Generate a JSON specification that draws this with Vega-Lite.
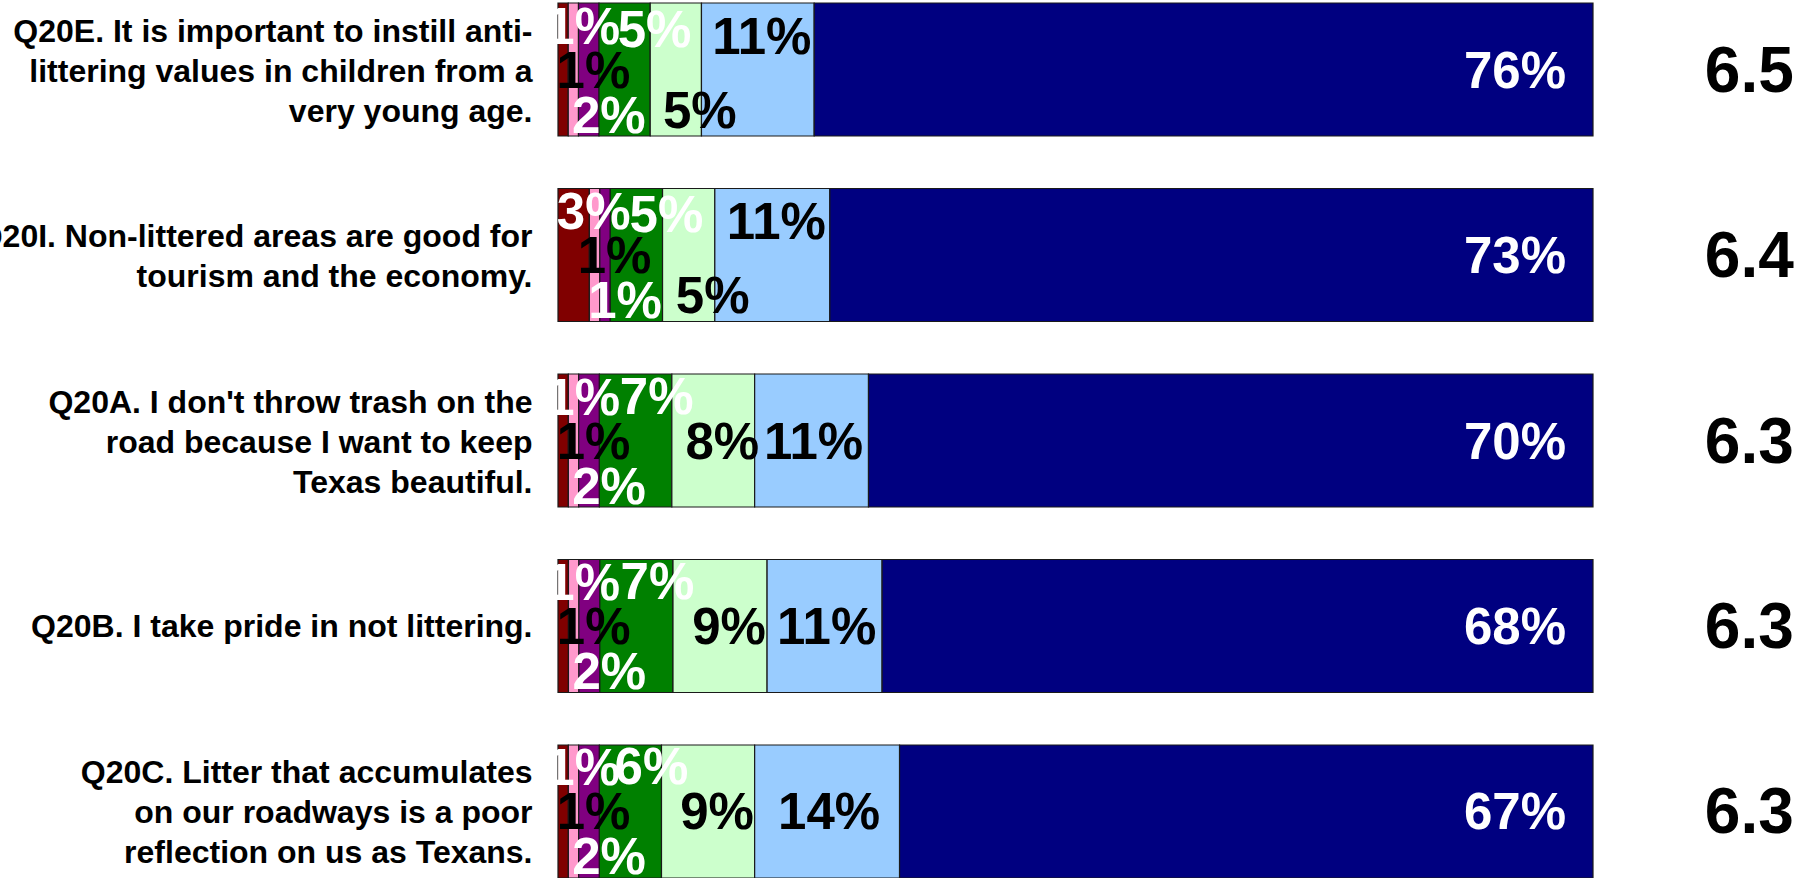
{
  "$schema": "https://vega.github.io/schema/vega-lite/v6.json",
  "width": 1035,
  "height": 875,
  "autosize": {"type": "none"},
  "padding": {"left": 558, "top": 3, "right": 219, "bottom": 0},
  "background": "white",
  "config": {"view": {"stroke": null}, "font": "Liberation Sans"},
  "datasets": {
    "bars": [
      {"q": "Q20E. It is important to instill anti-\nlittering values in children from a\nvery young age.", "k": 1, "v": 1},
      {"q": "Q20E. It is important to instill anti-\nlittering values in children from a\nvery young age.", "k": 2, "v": 1},
      {"q": "Q20E. It is important to instill anti-\nlittering values in children from a\nvery young age.", "k": 3, "v": 2},
      {"q": "Q20E. It is important to instill anti-\nlittering values in children from a\nvery young age.", "k": 4, "v": 5},
      {"q": "Q20E. It is important to instill anti-\nlittering values in children from a\nvery young age.", "k": 5, "v": 5},
      {"q": "Q20E. It is important to instill anti-\nlittering values in children from a\nvery young age.", "k": 6, "v": 11},
      {"q": "Q20E. It is important to instill anti-\nlittering values in children from a\nvery young age.", "k": 7, "v": 76},
      {"q": "Q20I. Non-littered areas are good for\ntourism and the economy.", "k": 1, "v": 3},
      {"q": "Q20I. Non-littered areas are good for\ntourism and the economy.", "k": 2, "v": 1},
      {"q": "Q20I. Non-littered areas are good for\ntourism and the economy.", "k": 3, "v": 1},
      {"q": "Q20I. Non-littered areas are good for\ntourism and the economy.", "k": 4, "v": 5},
      {"q": "Q20I. Non-littered areas are good for\ntourism and the economy.", "k": 5, "v": 5},
      {"q": "Q20I. Non-littered areas are good for\ntourism and the economy.", "k": 6, "v": 11},
      {"q": "Q20I. Non-littered areas are good for\ntourism and the economy.", "k": 7, "v": 73},
      {"q": "Q20A. I don't throw trash on the\nroad because I want to keep\nTexas beautiful.", "k": 1, "v": 1},
      {"q": "Q20A. I don't throw trash on the\nroad because I want to keep\nTexas beautiful.", "k": 2, "v": 1},
      {"q": "Q20A. I don't throw trash on the\nroad because I want to keep\nTexas beautiful.", "k": 3, "v": 2},
      {"q": "Q20A. I don't throw trash on the\nroad because I want to keep\nTexas beautiful.", "k": 4, "v": 7},
      {"q": "Q20A. I don't throw trash on the\nroad because I want to keep\nTexas beautiful.", "k": 5, "v": 8},
      {"q": "Q20A. I don't throw trash on the\nroad because I want to keep\nTexas beautiful.", "k": 6, "v": 11},
      {"q": "Q20A. I don't throw trash on the\nroad because I want to keep\nTexas beautiful.", "k": 7, "v": 70},
      {"q": "Q20B. I take pride in not littering.", "k": 1, "v": 1},
      {"q": "Q20B. I take pride in not littering.", "k": 2, "v": 1},
      {"q": "Q20B. I take pride in not littering.", "k": 3, "v": 2},
      {"q": "Q20B. I take pride in not littering.", "k": 4, "v": 7},
      {"q": "Q20B. I take pride in not littering.", "k": 5, "v": 9},
      {"q": "Q20B. I take pride in not littering.", "k": 6, "v": 11},
      {"q": "Q20B. I take pride in not littering.", "k": 7, "v": 68},
      {"q": "Q20C. Litter that accumulates\non our roadways is a poor\nreflection on us as Texans.", "k": 1, "v": 1},
      {"q": "Q20C. Litter that accumulates\non our roadways is a poor\nreflection on us as Texans.", "k": 2, "v": 1},
      {"q": "Q20C. Litter that accumulates\non our roadways is a poor\nreflection on us as Texans.", "k": 3, "v": 2},
      {"q": "Q20C. Litter that accumulates\non our roadways is a poor\nreflection on us as Texans.", "k": 4, "v": 6},
      {"q": "Q20C. Litter that accumulates\non our roadways is a poor\nreflection on us as Texans.", "k": 5, "v": 9},
      {"q": "Q20C. Litter that accumulates\non our roadways is a poor\nreflection on us as Texans.", "k": 6, "v": 14},
      {"q": "Q20C. Litter that accumulates\non our roadways is a poor\nreflection on us as Texans.", "k": 7, "v": 67}
    ],
    "means": [
      {"q": "Q20E. It is important to instill anti-\nlittering values in children from a\nvery young age.", "mean": 6.5},
      {"q": "Q20I. Non-littered areas are good for\ntourism and the economy.", "mean": 6.4},
      {"q": "Q20A. I don't throw trash on the\nroad because I want to keep\nTexas beautiful.", "mean": 6.3},
      {"q": "Q20B. I take pride in not littering.", "mean": 6.3},
      {"q": "Q20C. Litter that accumulates\non our roadways is a poor\nreflection on us as Texans.", "mean": 6.3}
    ]
  },
  "encoding": {
    "y": {
      "field": "q", "type": "nominal", "sort": null,
      "scale": {"paddingInner": 0.283, "paddingOuter": 0},
      "axis": {
        "title": null, "domain": false, "ticks": false, "grid": false,
        "labelFont": "Liberation Sans", "labelFontWeight": "bold", "labelFontSize": 32,
        "labelColor": "#000000", "labelPadding": 26, "labelLimit": 2000,
        "labelLineHeight": 40, "labelAlign": "right", "labelBaseline": "middle",
        "labelExpr": "split(datum.label, '\\n')",
        "labelOffset": {
          "condition": [
            {"test": "length(split(datum.label, '\\n')) == 3", "value": -38},
            {"test": "length(split(datum.label, '\\n')) == 2", "value": -18}
          ],
          "value": 1
        }
      }
    }
  },
  "layer": [
    {
      "data": {"name": "bars"},
      "transform": [
        {"stack": "v", "groupby": ["q"], "sort": [{"field": "k", "order": "ascending"}], "offset": "normalize", "as": ["x0", "x1"]},
        {"calculate": "(datum.x0 + datum.x1) / 2", "as": "xm"},
        {"calculate": "datum.v + '%'", "as": "lab"},
        {"calculate": "indexof(datum.q, 'Q20E') == 0 || indexof(datum.q, 'Q20I') == 0", "as": "upperRows"}
      ],
      "layer": [
        {
          "mark": {"type": "bar", "stroke": "#1a1a1a", "strokeWidth": 1.2},
          "encoding": {
            "x": {"field": "x0", "type": "quantitative", "scale": {"domain": [0, 1], "nice": false, "zero": false}, "axis": null},
            "x2": {"field": "x1"},
            "color": {
              "field": "k", "type": "nominal", "legend": null,
              "scale": {"domain": [1, 2, 3, 4, 5, 6, 7], "range": ["#800000", "#FF99CC", "#800080", "#008000", "#CCFFCC", "#99CCFF", "#000080"]}
            }
          }
        },
        {
          "transform": [{"filter": "datum.k == 1"}],
          "mark": {"type": "text", "fontSize": 51, "fontWeight": "bold", "color": "#ffffff", "dx": 20, "dy": -41, "baseline": "middle"},
          "encoding": {"x": {"field": "xm", "type": "quantitative"}, "text": {"field": "lab"}}
        },
        {
          "transform": [{"filter": "datum.k == 2"}],
          "mark": {"type": "text", "fontSize": 51, "fontWeight": "bold", "color": "#000000", "dx": 20, "dy": 3, "baseline": "middle"},
          "encoding": {"x": {"field": "xm", "type": "quantitative"}, "text": {"field": "lab"}}
        },
        {
          "transform": [{"filter": "datum.k == 3"}],
          "mark": {"type": "text", "fontSize": 51, "fontWeight": "bold", "color": "#ffffff", "dx": 20, "dy": 48, "baseline": "middle"},
          "encoding": {"x": {"field": "xm", "type": "quantitative"}, "text": {"field": "lab"}}
        },
        {
          "transform": [{"filter": "datum.k == 4 && datum.upperRows"}],
          "mark": {"type": "text", "fontSize": 51, "fontWeight": "bold", "color": "#ffffff", "dx": 30, "dy": -38, "baseline": "middle"},
          "encoding": {"x": {"field": "xm", "type": "quantitative"}, "text": {"field": "lab"}}
        },
        {
          "transform": [{"filter": "datum.k == 4 && !datum.upperRows"}],
          "mark": {"type": "text", "fontSize": 51, "fontWeight": "bold", "color": "#ffffff", "dx": 21, "dy": -42, "baseline": "middle"},
          "encoding": {"x": {"field": "xm", "type": "quantitative"}, "text": {"field": "lab"}}
        },
        {
          "transform": [{"filter": "datum.k == 5 && datum.upperRows"}],
          "mark": {"type": "text", "fontSize": 51, "fontWeight": "bold", "color": "#000000", "dx": 24, "dy": 43, "baseline": "middle"},
          "encoding": {"x": {"field": "xm", "type": "quantitative"}, "text": {"field": "lab"}}
        },
        {
          "transform": [{"filter": "datum.k == 5 && !datum.upperRows"}],
          "mark": {"type": "text", "fontSize": 51, "fontWeight": "bold", "color": "#000000", "dx": 9, "dy": 3, "baseline": "middle"},
          "encoding": {"x": {"field": "xm", "type": "quantitative"}, "text": {"field": "lab"}}
        },
        {
          "transform": [{"filter": "datum.k == 6 && datum.upperRows"}],
          "mark": {"type": "text", "fontSize": 51, "fontWeight": "bold", "color": "#000000", "dx": 4, "dy": -31, "baseline": "middle"},
          "encoding": {"x": {"field": "xm", "type": "quantitative"}, "text": {"field": "lab"}}
        },
        {
          "transform": [{"filter": "datum.k == 6 && !datum.upperRows"}],
          "mark": {"type": "text", "fontSize": 51, "fontWeight": "bold", "color": "#000000", "dx": 2, "dy": 3, "baseline": "middle"},
          "encoding": {"x": {"field": "xm", "type": "quantitative"}, "text": {"field": "lab"}}
        },
        {
          "transform": [{"filter": "datum.k == 7"}],
          "mark": {"type": "text", "fontSize": 51, "fontWeight": "bold", "color": "#ffffff", "align": "right", "dx": -27, "dy": 3, "baseline": "middle"},
          "encoding": {"x": {"field": "x1", "type": "quantitative"}, "text": {"field": "lab"}}
        }
      ]
    },
    {
      "data": {"name": "means"},
      "mark": {"type": "text", "fontSize": 64, "fontWeight": "bold", "color": "#000000", "align": "center", "baseline": "middle", "dy": 3},
      "encoding": {
        "x": {"datum": 1.151, "type": "quantitative", "scale": {"domain": [0, 1], "nice": false, "zero": false}},
        "text": {"field": "mean", "type": "quantitative", "format": ".1f"}
      }
    }
  ]
}
